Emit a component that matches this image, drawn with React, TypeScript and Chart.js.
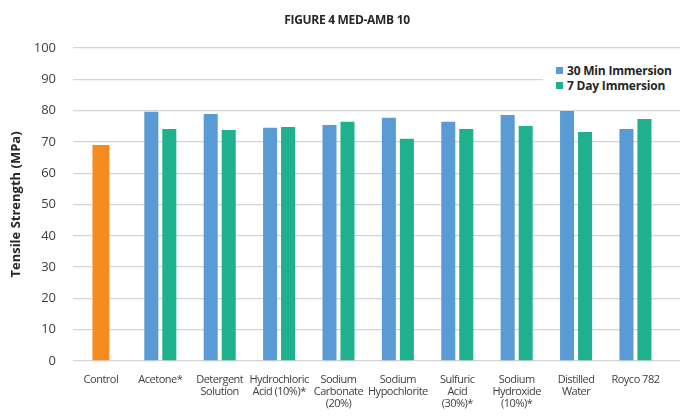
import React, { useEffect, useRef } from "react";
import { Chart, registerables } from "chart.js";

Chart.register(...registerables);

const categories: (string | string[])[] = [
  "Control",
  "Acetone*",
  ["Detergent", "Solution"],
  ["Hydrochloric", "Acid (10%)*"],
  ["Sodium", "Carbonate", "(20%)"],
  ["Sodium", "Hypochlorite"],
  ["Sulfuric", "Acid", "(30%)*"],
  ["Sodium", "Hydroxide", "(10%)*"],
  ["Distilled", "Water"],
  "Royco 782",
];

const controlValues: (number | null)[] = [69.0, null, null, null, null, null, null, null, null, null];
const min30Values: (number | null)[] = [null, 79.6, 78.9, 74.5, 75.4, 77.7, 76.4, 78.6, 79.9, 74.1];
const day7Values: (number | null)[] = [null, 74.1, 73.8, 74.8, 76.4, 71.0, 74.1, 75.1, 73.2, 77.3];

const yTicks = [0, 10, 20, 30, 40, 50, 60, 70, 80, 90, 100];

const title = "FIGURE 4 MED-AMB 10";
const seriesNames = ["30 Min Immersion", "7 Day Immersion"];
const colors = { control: "#F68B1F", min30: "#5B9BD5", day7: "#1FB08E" };

const toPoints = (arr: (number | null)[]) => arr.map((v, i) => ({ x: i, y: v }));

const narrowLabels = {
  id: "narrowLabels",
  afterDatasetsDraw(chart: any) {
    chart.ctx.letterSpacing = "-0.5px";
  },
  afterDraw(chart: any) {
    chart.ctx.letterSpacing = "0px";
  },
};

export default function App() {
  const canvasRef = useRef<HTMLCanvasElement | null>(null);

  useEffect(() => {
    if (!canvasRef.current) return;
    const chart = new Chart(canvasRef.current, {
      type: "bar",
      data: {
        datasets: [
          {
            label: "Control",
            data: toPoints(controlValues) as any,
            backgroundColor: colors.control,
            barPercentage: 0.47,
            categoryPercentage: 0.606,
          },
          {
            label: seriesNames[0],
            data: toPoints(min30Values) as any,
            backgroundColor: colors.min30,
            barPercentage: 0.78,
            categoryPercentage: 0.606,
          },
          {
            label: seriesNames[1],
            data: toPoints(day7Values) as any,
            backgroundColor: colors.day7,
            barPercentage: 0.78,
            categoryPercentage: 0.606,
          },
        ],
      },
      plugins: [narrowLabels],
      options: {
        animation: false,
        responsive: true,
        maintainAspectRatio: false,
        skipNull: true,
        layout: { padding: { top: 48, right: 0, left: 0, bottom: 0 } },
        plugins: {
          legend: { display: false },
          title: { display: false },
          tooltip: { enabled: false },
        },
        scales: {
          x: {
            type: "linear",
            offset: false,
            min: -0.47,
            max: 9.75,
            grid: { display: false, drawTicks: false },
            border: { display: false },
            afterBuildTicks: (scale: any) => {
              scale.ticks = categories.map((_, i) => ({ value: i }));
            },
            afterFit: (scale: any) => {
              scale.height = 56;
            },
            ticks: {
              z: 1,
              autoSkip: false,
              maxRotation: 0,
              minRotation: 0,
              padding: 13,
              color: "#404040",
              font: { family: "'Open Sans'", size: 11, lineHeight: 1.1 },
              callback: (value: any) => categories[value as number] as any,
            },
          },
          y: {
            min: 0,
            max: 100,
            afterBuildTicks: (scale: any) => {
              scale.ticks = yTicks.map((v) => ({ value: v }));
            },
            afterFit: (scale: any) => {
              scale.width = 73;
            },
            grid: { color: "#d4d4d4", lineWidth: 1.3, drawTicks: false },
            border: { display: false },
            ticks: {
              padding: 17,
              color: "#404040",
              font: { family: "'Open Sans'", size: 13 },
            },
            title: {
              display: true,
              text: "Tensile Strength (MPa)",
              color: "#262626",
              font: { family: "'Open Sans'", size: 13, weight: "bold" },
              padding: { top: 8, bottom: 0 },
            },
          },
        },
      } as any,
    });
    return () => chart.destroy();
  }, []);

  return (
    <div
      style={{
        position: "fixed",
        left: 0,
        top: 0,
        width: 680,
        height: 417,
        background: "#ffffff",
        fontFamily: "'Open Sans', sans-serif",
      }}
    >
      <canvas ref={canvasRef} />
      <div
        style={{
          position: "absolute",
          top: 12,
          left: 247,
          width: 200,
          textAlign: "center",
          fontSize: 12,
          fontWeight: 700,
          color: "#262626",
          letterSpacing: -0.3,
          lineHeight: "16px",
        }}
      >
        {title}
      </div>
      <div
        style={{
          position: "absolute",
          top: 62,
          left: 543,
          width: 137,
          height: 32,
          background: "#ffffff",
        }}
      >
        {seriesNames.map((name, i) => (
          <div
            key={name}
            style={{
              position: "absolute",
              left: 13,
              top: i * 15.5,
              display: "flex",
              alignItems: "center",
              height: 16,
              fontSize: 12,
              fontWeight: 700,
              color: "#262626",
              whiteSpace: "nowrap",
              letterSpacing: -0.2,
            }}
          >
            <span
              style={{
                display: "inline-block",
                width: 7,
                height: 7,
                background: i === 0 ? colors.min30 : colors.day7,
                marginRight: 4,
              }}
            />
            {name}
          </div>
        ))}
      </div>
    </div>
  );
}
